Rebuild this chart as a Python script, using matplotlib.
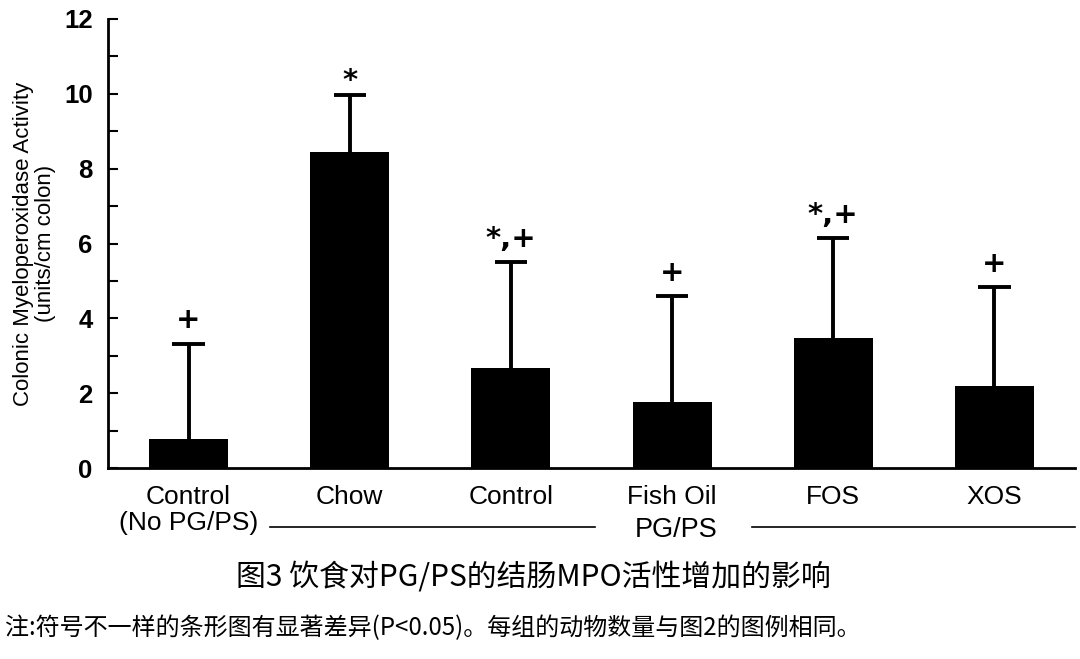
import numpy as np
import matplotlib
matplotlib.use('Agg')
import matplotlib.pyplot as plt
from matplotlib.lines import Line2D
from matplotlib.ticker import MultipleLocator

# 数据
groups = ['Control\n(No PG/PS)', 'Chow', 'Control', 'Fish Oil', 'FOS', 'XOS']
mpo_mean = [0.77, 8.45, 2.66, 1.76, 3.47, 2.18]
mpo_err_top = [3.32, 9.96, 5.50, 4.60, 6.15, 4.84]
marks = ['+', '*', '*,+', '+', '*,+', '+']

title_cn = '图3 饮食对PG/PS的结肠MPO活性增加的影响'
note_cn = '注:符号不一样的条形图有显著差异(P<0.05)。每组的动物数量与图2的图例相同。'

plt.rcParams['font.family'] = ['Liberation Sans', 'DejaVu Sans']

fig = plt.figure(figsize=(10.8, 6.59), dpi=100)
ax = fig.add_axes([0.1, 0.2898, 0.8954, 0.6814])

x = np.arange(len(groups))
ax.bar(x, mpo_mean, width=0.49, color='black', zorder=2)
# 只画向上的误差线
ax.vlines(x, mpo_mean, mpo_err_top, color='black', lw=2.8, zorder=1)
ax.hlines(mpo_err_top, x - 0.1, x + 0.1, color='black', lw=2.8, zorder=1)

# 显著性标记
for xi, top, m in zip(x, mpo_err_top, marks):
    off = 0.25 if '+' in m else 0.0
    ax.text(xi, top + off, m, ha='center', va='bottom', fontsize=21,
            fontweight='bold', family=['DejaVu Sans'])

ax.set_xlim(-0.5, 5.5)
ax.set_ylim(0, 12)
ax.yaxis.set_major_locator(MultipleLocator(2))
ax.yaxis.set_minor_locator(MultipleLocator(1))
ax.tick_params(axis='y', which='both', direction='in', length=7, width=1.5, pad=11)
ax.tick_params(axis='x', length=0, pad=12)
ax.set_xticks(x)
ax.set_xticklabels(groups, fontsize=19, linespacing=1.1)
for lab in ax.get_yticklabels():
    lab.set_fontsize(18.5)
    lab.set_fontweight('bold')

for s in ['top', 'right']:
    ax.spines[s].set_visible(False)
for s in ['left', 'bottom']:
    ax.spines[s].set_linewidth(2)

ax.set_ylabel('Colonic Myeloperoxidase Activity\n(units/cm colon)', fontsize=16,
              linespacing=1.05, labelpad=6)

# PG/PS 分组标注
fig.add_artist(Line2D([270 / 1080, 595 / 1080], [0.2003, 0.2003], color='black', lw=1.2))
fig.add_artist(Line2D([752 / 1080, 1075 / 1080], [0.2003, 0.2003], color='black', lw=1.2))
fig.text(676 / 1080, 0.196, 'PG/PS', ha='center', va='center', fontsize=19.5)

fig.text(0.494, 0.124, title_cn, ha='center', va='center', fontsize=21.5,
         family=['Noto Sans CJK SC', 'DejaVu Sans'])
fig.text(0.005, 0.047, note_cn, ha='left', va='center', fontsize=17.3,
         family=['Noto Sans CJK SC', 'DejaVu Sans'])

fig.savefig('out.png', dpi=100)
